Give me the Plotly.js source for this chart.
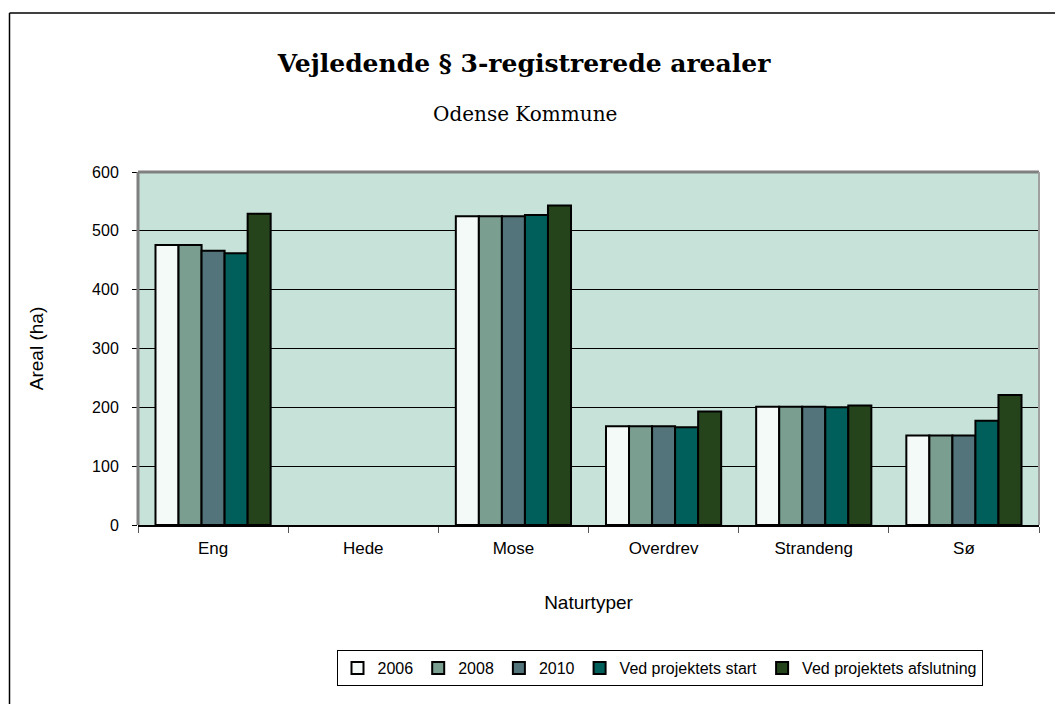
<!DOCTYPE html>
<html>
<head>
<meta charset="utf-8">
<script src="https://cdn.plot.ly/plotly-3.0.1.min.js"></script>
<style>
html,body{margin:0;padding:0;background:#fff;}
#chart{width:1055px;height:704px;}
</style>
</head>
<body>
<div id="chart"></div>
<script>
const categories = ['Eng', 'Hede', 'Mose', 'Overdrev', 'Strandeng', 'Sø'];
const seriesNames = ['2006', '2008', '2010', 'Ved projektets start', 'Ved projektets afslutning'];
const v2006 = [476, 0, 525, 168, 201, 152];
const v2008 = [476, 0, 525, 168, 201, 152];
const v2010 = [466, 0, 525, 168, 201, 152];
const vStart = [462, 0, 527, 166, 200, 177];
const vSlut = [529, 0, 543, 193, 203, 221];
const colors = ['#f3faf7', '#7a9e90', '#52747a', '#005f5a', '#26441c'];
const yTicks = [0, 100, 200, 300, 400, 500, 600];

const seriesValues = [v2006, v2008, v2010, vStart, vSlut];

const W = 1055, H = 704;
const L = 138, R = 1039, T = 172, B = 525;
const px = x => (x - L) / (R - L);
const py = y => (B - y) / (B - T);

const traces = seriesValues.map((vals, i) => ({
  type: 'bar',
  name: seriesNames[i],
  x: categories,
  y: vals,
  marker: {color: colors[i], line: {color: '#000000', width: vals.map(v => v > 0 ? 2 : 0)}},
  hoverinfo: 'x+y+name'
}));

const layout = {
  width: W, height: H,
  margin: {l: L, r: W - R, t: T, b: H - B, pad: 0},
  paper_bgcolor: '#ffffff',
  plot_bgcolor: '#c6e2d9',
  barmode: 'group',
  bargap: 0.233,
  bargroupgap: 0,
  font: {family: 'Liberation Sans, Arial, sans-serif', color: '#000000'},
  title: {
    text: 'Vejledende § 3-registrerede arealer',
    font: {family: 'DejaVu Serif, serif', size: 25, color: '#000000', weight: 'bold'},
    x: 524 / W, xanchor: 'center', xref: 'container',
    y: 1 - 63 / H, yanchor: 'middle', yref: 'container'
  },
  annotations: [{
    text: 'Odense Kommune',
    xref: 'paper', yref: 'paper',
    x: px(525), y: py(114), xanchor: 'center', yanchor: 'middle',
    showarrow: false,
    font: {family: 'DejaVu Serif, serif', size: 20, color: '#000000'}
  }],
  xaxis: {
    type: 'category',
    showline: true, linecolor: '#000000', linewidth: 1.5,
    ticks: 'outside', tickson: 'boundaries', ticklen: 6, tickcolor: '#555555', tickwidth: 1,
    ticklabelstandoff: 7,
    tickfont: {size: 17, color: '#000000'},
    showgrid: false,
    title: {text: 'Naturtyper', font: {size: 19, color: '#000000'}, standoff: 39}
  },
  yaxis: {
    range: [0, 600],
    tickvals: yTicks,
    ticktext: yTicks.map(String),
    showgrid: true, gridcolor: '#000000', gridwidth: 1,
    zeroline: false,
    showline: false,
    ticks: 'outside', ticklen: 5, tickcolor: '#000000', tickwidth: 1,
    ticklabelstandoff: 10,
    tickfont: {size: 16, color: '#000000'},
    title: {text: 'Areal (ha)', font: {size: 19, color: '#000000'}, standoff: 43}
  },
  showlegend: true,
  legend: {
    orientation: 'h',
    x: px(659.5), xanchor: 'center',
    y: py(668), yanchor: 'middle',
    bordercolor: '#000000', borderwidth: 1,
    bgcolor: '#ffffff',
    font: {size: 16, color: '#000000'},
    itemwidth: 30,
    traceorder: 'normal'
  },
  shapes: [
    {type: 'line', xref: 'paper', yref: 'paper', x0: px(9.5), x1: px(1060), y0: py(13), y1: py(13), line: {color: '#000000', width: 1.5}},
    {type: 'line', xref: 'paper', yref: 'paper', x0: px(9.5), x1: px(9.5), y0: py(13), y1: py(710), line: {color: '#000000', width: 1.5}},
    {type: 'line', xref: 'paper', yref: 'paper', x0: 0, x1: 1, y0: 1, y1: 1, line: {color: '#808080', width: 3}, layer: 'above'},
    {type: 'line', xref: 'paper', yref: 'paper', x0: 0, x1: 0, y0: 0, y1: 1, line: {color: '#808080', width: 3}, layer: 'above'},
    {type: 'line', xref: 'paper', yref: 'paper', x0: 1, x1: 1, y0: 0, y1: 1, line: {color: '#a0a0a0', width: 2}, layer: 'above'}
  ]
};

Plotly.newPlot('chart', traces, layout, {displayModeBar: false, staticPlot: true});
</script>
</body>
</html>
